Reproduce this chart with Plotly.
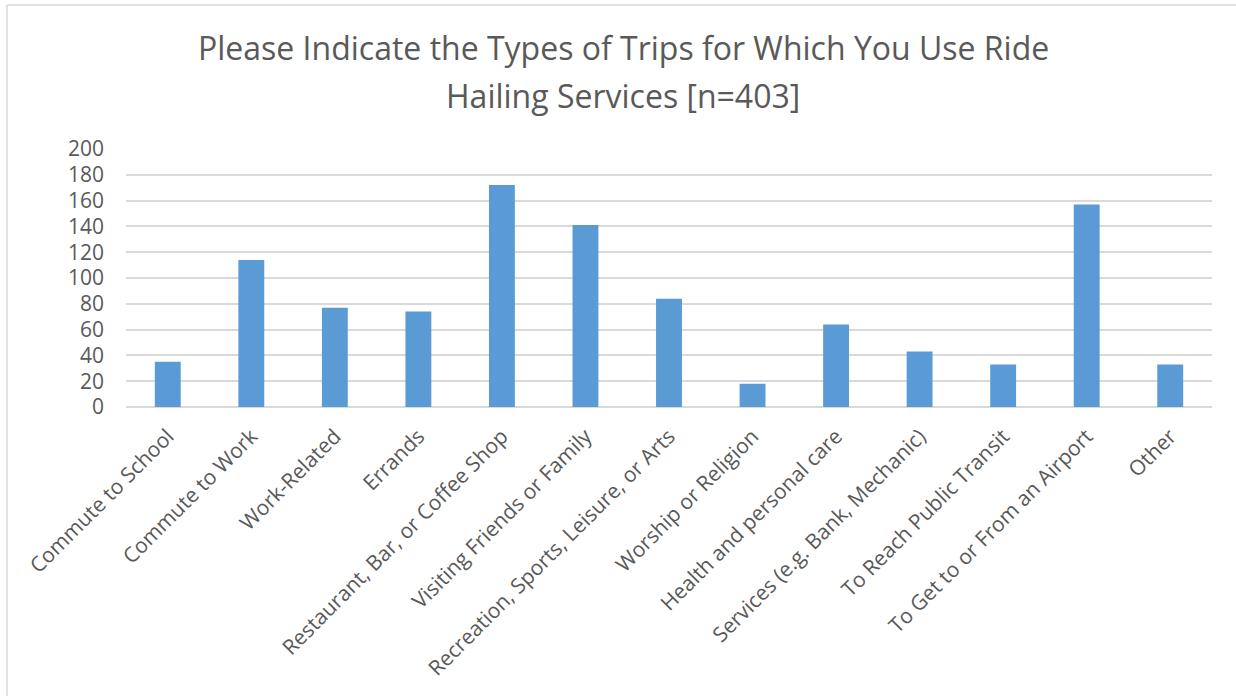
import plotly.graph_objects as go

categories = [
    "Commute to School", "Commute to Work", "Work-Related", "Errands",
    "Restaurant, Bar, or Coffee Shop", "Visiting Friends or Family",
    "Recreation, Sports, Leisure, or Arts", "Worship or Religion",
    "Health and personal care", "Services (e.g. Bank, Mechanic)",
    "To Reach Public Transit", "To Get to or From an Airport", "Other",
]
counts = [35, 114, 77, 74, 172, 141, 84, 18, 64, 43, 33, 157, 33]
y_ticks = list(range(0, 201, 20))
title_lines = [
    "Please Indicate the Types of Trips for Which You Use Ride",
    "Hailing Services [n=403]",
]

W, H = 1236, 696
ML, MR, MT, MB = 126, 24, 149, 289
PW, PH = W - ML - MR, H - MT - MB

def px_x(x):
    return (x - ML) / PW

def px_y(y):
    return (H - MB - y) / PH

TEXT = "#595959"
GRID = "#D9D9D9"
FONT = "Open Sans, Liberation Sans, sans-serif"

fig = go.Figure(go.Bar(
    x=categories, y=counts,
    marker=dict(color="#5B9BD5", line=dict(width=0)),
))

# two-line chart title, placed as centred annotations for exact line spacing
title_rows = [48, 95]
annotations = [
    dict(text=line, xref="paper", yref="paper", x=px_x(623), y=px_y(row),
         xanchor="center", yanchor="middle", showarrow=False,
         font=dict(family=FONT, size=32, color=TEXT))
    for line, row in zip(title_lines, title_rows)
]

fig.update_layout(
    width=W, height=H,
    margin=dict(l=ML, r=MR, t=MT, b=MB),
    paper_bgcolor="white", plot_bgcolor="white",
    bargap=0.69,
    showlegend=False,
    font=dict(family=FONT, color=TEXT),
    annotations=annotations,
    xaxis=dict(
        tickangle=-45, tickfont=dict(size=21, color=TEXT),
        showgrid=False, showline=False, ticks="", zeroline=False,
        ticklabelstandoff=12,
    ),
    yaxis=dict(
        range=[0, 200], tickvals=y_ticks, tickfont=dict(size=21, color=TEXT),
        showgrid=True, gridcolor=GRID, gridwidth=1.5,
        zeroline=True, zerolinecolor=GRID, zerolinewidth=1.5,
        showline=False, ticks="", ticklabelstandoff=21,
    ),
    shapes=[
        dict(type="line", xref="paper", yref="paper",
             x0=px_x(7), x1=px_x(W + 5), y0=px_y(5), y1=px_y(5),
             line=dict(color=GRID, width=1.5)),
        dict(type="line", xref="paper", yref="paper",
             x0=px_x(7), x1=px_x(7), y0=px_y(5), y1=px_y(H + 5),
             line=dict(color=GRID, width=1.5)),
    ],
)

fig.write_html("out.html")
